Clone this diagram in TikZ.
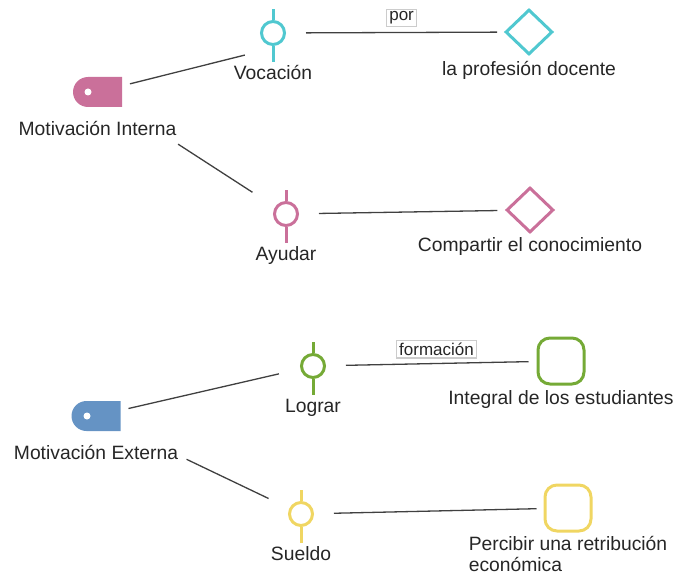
\documentclass[tikz,border=0pt]{standalone}
\usepackage{fontspec}
\setmainfont{Liberation Sans}
\usetikzlibrary{positioning, shapes.geometric, shapes.misc}

\definecolor{tagPink}{RGB}{202,112,154}
\definecolor{vocCyan}{RGB}{80,200,208}
\definecolor{tagBlue}{RGB}{101,147,196}
\definecolor{logGreen}{RGB}{117,170,54}
\definecolor{sueYellow}{RGB}{240,214,98}

\begin{document}
\begin{tikzpicture}[
    x=1pt, y=-1pt,
    every node/.style={font=\fontsize{19.3}{21}\selectfont, text=black!85},
    link/.style={draw=black!75, line width=1.3pt},
    tagshape/.style={rounded rectangle, rounded rectangle right arc=none, minimum width=49pt, minimum height=30pt, inner sep=0pt},
    hole/.style={circle, fill=white, minimum size=7pt, inner sep=0pt},
    ring/.style={circle, draw=#1, line width=3pt, minimum size=23pt, inner sep=0pt},
    stem/.style={line width=3pt},
    gem/.style={diamond, draw=#1, line width=3pt, minimum width=47pt, minimum height=45pt, inner sep=0pt},
    sqbox/.style={rectangle, rounded corners=12pt, draw=#1, line width=3pt, minimum size=46pt, inner sep=0pt},
    txt/.style={inner sep=0pt, text height=13.5pt, text depth=4pt},
    lbl/.style={draw=black!20, fill=white, inner sep=2.5pt, font=\fontsize{17}{19}\selectfont}
]
\useasboundingbox (0,0) rectangle (675,575);

% motivacion interna
\node[tagshape, fill=tagPink] (tagI) at (97.5,92) {};
\node[hole] (holeI) at ([xshift=-9.5pt]tagI.center) {};
\node[txt, below=15pt of tagI] (intT) {Motivación Interna};

\node[ring=vocCyan] (voc) at (273,33) {};
\node[txt, below=20pt of voc] (vocT) {Vocación};
\node[gem=vocCyan] (dia1) at (529,32) {};
\node[txt, below=6pt of dia1] (dia1T) {la profesión docente};

\node[ring=tagPink] (ayu) at (286,214) {};
\node[txt, below=20pt of ayu] (ayuT) {Ayudar};
\node[gem=tagPink] (dia2) at (530,210) {};
\node[txt, below=4pt of dia2] (dia2T) {Compartir el conocimiento};

% motivacion externa
\node[tagshape, fill=tagBlue] (tagE) at (96,416) {};
\node[hole] (holeE) at ([xshift=-9pt]tagE.center) {};
\node[txt, below=15pt of tagE] (extT) {Motivación Externa};

\node[ring=logGreen] (log) at (313,366) {};
\node[txt, below=20pt of log] (logT) {Lograr};
\node[sqbox=logGreen] (sqG) at (561,361) {};
\node[txt, below=5pt of sqG] (sqGT) {Integral de los estudiantes};

\node[ring=sueYellow] (sue) at (301,514) {};
\node[txt, below=20pt of sue] (sueT) {Sueldo};
\node[sqbox=sueYellow] (sqY) at (568,508) {};
\node[inner sep=0pt, align=left, below=4pt of sqY] (sqYT) {Percibir una retribución\\económica};

% stems of the rings
\foreach \n/\c in {voc/vocCyan, ayu/tagPink, log/logGreen, sue/sueYellow}{
  \draw[stem, draw=\c] (\n.north) -- ++(0,-11);
  \draw[stem, draw=\c] (\n.south) -- ++(0,16);
}

% connectors
\draw[link, shorten <=8pt, shorten >=29pt] (tagI) -- ([yshift=-15pt]voc.center);
\draw[link, shorten <=20pt, shorten >=7pt] (voc) -- node[lbl, above=5pt, pos=0.53] (porL) {por} (dia1);
\draw[link, shorten <=68pt, shorten >=27pt] (tagI) -- (ayu);
\draw[link, shorten <=20pt, shorten >=8pt] (ayu) -- (dia2);
\draw[link, shorten <=8pt, shorten >=22pt] (tagE) -- (log);
\draw[link, shorten <=20pt, shorten >=8pt] (log) -- node[lbl, above=5pt, pos=0.525] (formL) {formación} (sqG);
\draw[link, shorten <=73pt, shorten >=23pt] (tagE) -- (sue);
\draw[link, shorten <=20pt, shorten >=7pt] (sue) -- (sqY);

\end{tikzpicture}
\end{document}
